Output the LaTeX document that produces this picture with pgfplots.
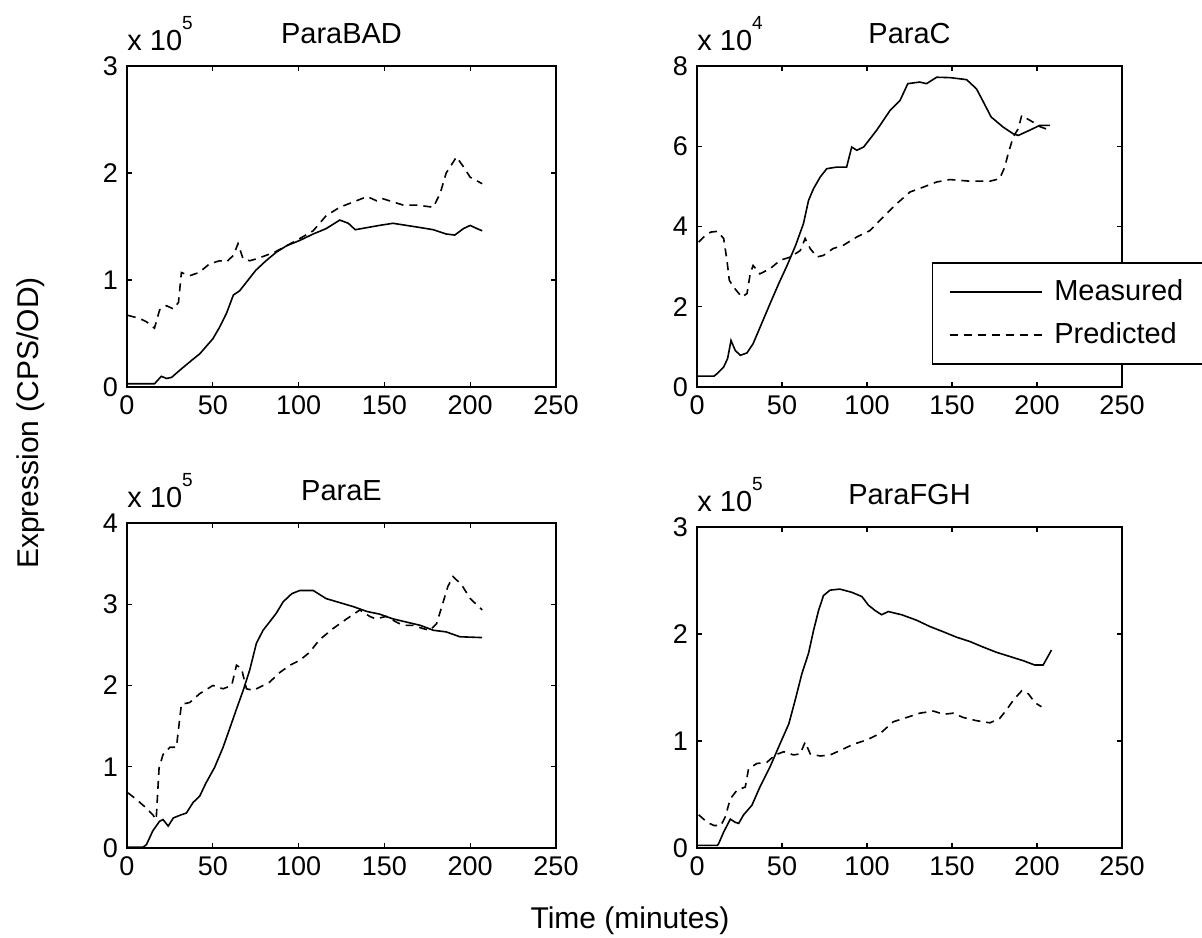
\documentclass[border=0pt]{standalone}
\usepackage{pgfplots}
\pgfplotsset{compat=1.18}
\usepackage{fontspec}
\setmainfont{Liberation Sans}

% MATLAB-like look: box, inward ticks, black lines
\pgfplotsset{
  mlab/.style={
    scale only axis,
    anchor=south west,
    xmin=0, xmax=250,
    xtick={0,50,...,250},
    tick align=inside,
    major tick length=2.5pt,
    axis line style={line width=0.7pt},
    every tick/.style={black, line width=0.6pt},
    /pgf/number format/assume math mode=true,
    ticklabel style={font=\fontsize{13.5}{16}\selectfont},
    xticklabel style={yshift=-1pt},
    yticklabel style={xshift=-1pt},
    every axis title shift=0pt,
    title style={at={(0.5,1)}, anchor=base, yshift=11.5pt, font=\fontsize{14.5}{17}\selectfont},
    clip=false,
  },
  meas/.style={black, line width=0.8pt},
  pred/.style={black, line width=0.8pt, dash pattern=on 4pt off 3pt},
}
\newcommand{\xten}[1]{x 10\raisebox{10.5pt}{\fontsize{9.5}{11}\selectfont #1}}

\begin{document}
\begin{tikzpicture}
\path[use as bounding box] (0,0) rectangle (601pt,-468.5pt);

% ParaBAD
\begin{axis}[mlab, at={(63.5pt,-193.5pt)}, width=214.5pt, height=160.5pt,
  ymin=0, ymax=3, ytick={0,1,2,3}, title={ParaBAD}]
\addplot[meas] coordinates {
(0,0.03) (16,0.03) (20,0.10) (23,0.08) (26,0.09) (31,0.16) (38.5,0.26) (42.4,0.31)
(50,0.45) (54,0.56) (58,0.69) (62,0.86) (65.7,0.90) (69.6,0.98) (75,1.09) (81,1.18)
(87,1.26) (93,1.32) (100.7,1.37) (108.5,1.43) (116,1.48) (124,1.56) (129,1.53)
(133,1.47) (140,1.49) (147,1.51) (155,1.53) (163,1.51) (171,1.49) (178.5,1.47)
(186,1.43) (191,1.42) (196,1.48) (200,1.51) (204,1.48) (207,1.46)};
\addplot[pred] coordinates {
(0.5,0.67) (7.4,0.64) (11.3,0.61) (16,0.55) (19,0.72) (23,0.76) (27,0.73) (30,0.79)
(31.7,1.07) (36.5,1.04) (42,1.07) (48,1.15) (54,1.18) (58,1.17) (62,1.23) (64.7,1.34)
(67.6,1.20) (71.5,1.18) (76,1.20) (81,1.23) (86,1.26) (93,1.32) (101,1.39) (108.5,1.46)
(116,1.60) (124,1.68) (132,1.73) (140,1.78) (145.5,1.74) (149,1.76) (155,1.73)
(161,1.70) (169,1.70) (178.5,1.68) (182.5,1.81) (186,2.00) (192,2.15) (196,2.06)
(200,1.96) (207,1.90)};
\node[anchor=base west, font=\fontsize{14.5}{17}\selectfont, inner sep=0pt]
  at ([yshift=8pt]rel axis cs:0,1) {\xten{5}};
\end{axis}

% ParaC
\begin{axis}[mlab, at={(348.5pt,-193.5pt)}, width=212.5pt, height=160.5pt,
  ymin=0, ymax=8, ytick={0,2,4,6,8}, title={ParaC},
  legend style={at={(0.553,0.389)}, anchor=north west, draw=black, line width=0.7pt,
    font=\fontsize{14.5}{17}\selectfont, inner xsep=8pt, inner ysep=6.5pt,
    row sep=5.5pt, cells={anchor=west}},
  legend image code/.code={\draw[#1] (0pt,0pt) -- (46pt,0pt); \path (50pt,0pt);}]
\addplot[meas] coordinates {
(0,0.27) (10,0.27) (11.7,0.33) (15.7,0.50) (18,0.71) (20,1.16) (22.5,0.91) (25.5,0.79)
(29.4,0.85) (33,1.08) (38,1.58) (43,2.08) (48,2.57) (53,3.03) (58,3.53) (62.6,4.07)
(65.6,4.65) (68.5,4.94) (72.4,5.23) (76.3,5.44) (82,5.48) (88,5.48) (91,5.98) (94,5.90)
(98,5.98) (105.7,6.40) (113.5,6.89) (119.4,7.14) (124,7.56) (131,7.60) (135,7.56)
(141,7.72) (149,7.71) (158.6,7.66) (164.4,7.43) (168,7.14) (173,6.73) (180,6.48)
(186,6.31) (189,6.27) (195.7,6.40) (201.6,6.52) (207.5,6.52)};
\addlegendentry{Measured}
\addplot[pred] coordinates {
(1,3.61) (4,3.74) (8,3.86) (12,3.88) (15.7,3.70) (17.6,3.16) (19,2.66) (21.5,2.49)
(26.4,2.24) (29.4,2.33) (31.3,2.82) (33,3.03) (37,2.82) (43,2.95) (49,3.16) (55,3.24)
(60.7,3.40) (63.6,3.70) (66.6,3.45) (70.5,3.24) (74.4,3.28) (80,3.45) (86,3.53)
(94,3.74) (101.8,3.90) (109.6,4.24) (117.5,4.57) (125.3,4.86) (133,4.98) (141,5.11)
(148.8,5.17) (160.5,5.13) (172.3,5.13) (178,5.19) (181,5.48) (183,5.81) (186,6.23)
(189,6.44) (191,6.77) (194,6.69) (197.7,6.60) (201.6,6.49) (207.5,6.40)};
\addlegendentry{Predicted}
\node[anchor=base west, font=\fontsize{14.5}{17}\selectfont, inner sep=0pt]
  at ([yshift=8pt]rel axis cs:0,1) {\xten{4}};
\end{axis}

% ParaE
\begin{axis}[mlab, at={(63.5pt,-424pt)}, width=214.5pt, height=162.5pt,
  ymin=0, ymax=4, ytick={0,1,2,3,4}, title={ParaE}]
\addplot[meas] coordinates {
(0,0.01) (9.3,0.01) (11.3,0.04) (15,0.21) (19,0.33) (21,0.35) (24,0.27) (27,0.37)
(31.7,0.41) (34.6,0.43) (38.5,0.56) (42.4,0.64) (46,0.80) (51,0.99) (56,1.24) (60,1.48)
(63.8,1.71) (67.7,1.94) (71.5,2.19) (75.4,2.52) (79.3,2.68) (83,2.78) (87,2.89)
(91,3.03) (96,3.13) (100.7,3.17) (108.5,3.17) (116,3.07) (124,3.02) (132,2.97)
(140,2.91) (147,2.88) (155,2.82) (163,2.78) (171,2.74) (178.5,2.68) (186,2.66)
(194,2.60) (207,2.59)};
\addplot[pred] coordinates {
(0.5,0.68) (5.4,0.60) (11.3,0.49) (15,0.41) (17,0.35) (18.7,0.99) (21,1.15) (25,1.24)
(28.8,1.24) (31.7,1.77) (36.5,1.79) (42.4,1.90) (50,2.00) (56,1.96) (61,2.00)
(63.8,2.25) (66.7,2.21) (69.6,1.96) (73.5,1.94) (77.4,1.98) (83,2.04) (89,2.16)
(95,2.25) (100.7,2.31) (106.5,2.41) (112,2.56) (120,2.70) (128,2.82) (135.7,2.93)
(141.5,2.85) (145,2.82) (151,2.85) (157,2.78) (161,2.74) (166.8,2.74) (172.6,2.70)
(176.5,2.68) (180.4,2.76) (184,3.01) (187,3.22) (190,3.34) (195,3.24) (200,3.07)
(207,2.93)};
\node[anchor=base west, font=\fontsize{14.5}{17}\selectfont, inner sep=0pt]
  at ([yshift=8pt]rel axis cs:0,1) {\xten{5}};
\end{axis}

% ParaFGH
\begin{axis}[mlab, at={(348.5pt,-424pt)}, width=212.5pt, height=160.5pt,
  ymin=0, ymax=3, ytick={0,1,2,3}, title={ParaFGH}]
\addplot[meas] coordinates {
(0,0.025) (12,0.025) (12.7,0.04) (15.7,0.15) (19.6,0.27) (22.5,0.24) (24.5,0.23)
(27.4,0.31) (32.3,0.40) (37,0.57) (43,0.76) (49,0.98) (54,1.16) (57.7,1.38) (61.7,1.63)
(65.6,1.82) (68.5,2.03) (71.5,2.22) (74.4,2.36) (78.3,2.41) (84,2.42) (91,2.39)
(97,2.35) (100.8,2.27) (104.7,2.22) (108.6,2.18) (112.5,2.21) (120.4,2.18) (129,2.13)
(137,2.07) (145,2.02) (152.7,1.97) (160.5,1.93) (168,1.88) (176,1.83) (184,1.79)
(192,1.75) (198.7,1.71) (203.6,1.71) (208.5,1.85)};
\addplot[pred] coordinates {
(1,0.31) (6,0.24) (10,0.21) (14,0.21) (16.6,0.29) (19.6,0.46) (23.5,0.54) (28.4,0.57)
(30.3,0.74) (35.2,0.79) (41,0.80) (46,0.87) (51,0.90) (56.8,0.87) (60.7,0.88)
(63.6,0.99) (66.6,0.88) (72.4,0.86) (78.3,0.87) (84,0.91) (92,0.97) (99.8,1.01)
(107.7,1.07) (115.5,1.18) (123.3,1.22) (131,1.26) (139,1.28) (145,1.25) (150.7,1.26)
(156.6,1.22) (164.4,1.19) (172.3,1.17) (178,1.21) (182,1.29) (186,1.38) (191,1.47)
(195,1.44) (198.7,1.36) (202.6,1.32)};
\node[anchor=base west, font=\fontsize{14.5}{17}\selectfont, inner sep=0pt]
  at ([yshift=8pt]rel axis cs:0,1) {\xten{5}};
\end{axis}

\node[rotate=90, font=\fontsize{15}{18}\selectfont, inner sep=0pt] at (15.5pt,-211.5pt) {Expression (CPS/OD)};
\node[anchor=base, font=\fontsize{15}{18}\selectfont, inner sep=0pt] at (315pt,-464pt) {Time (minutes)};
\end{tikzpicture}
\end{document}
